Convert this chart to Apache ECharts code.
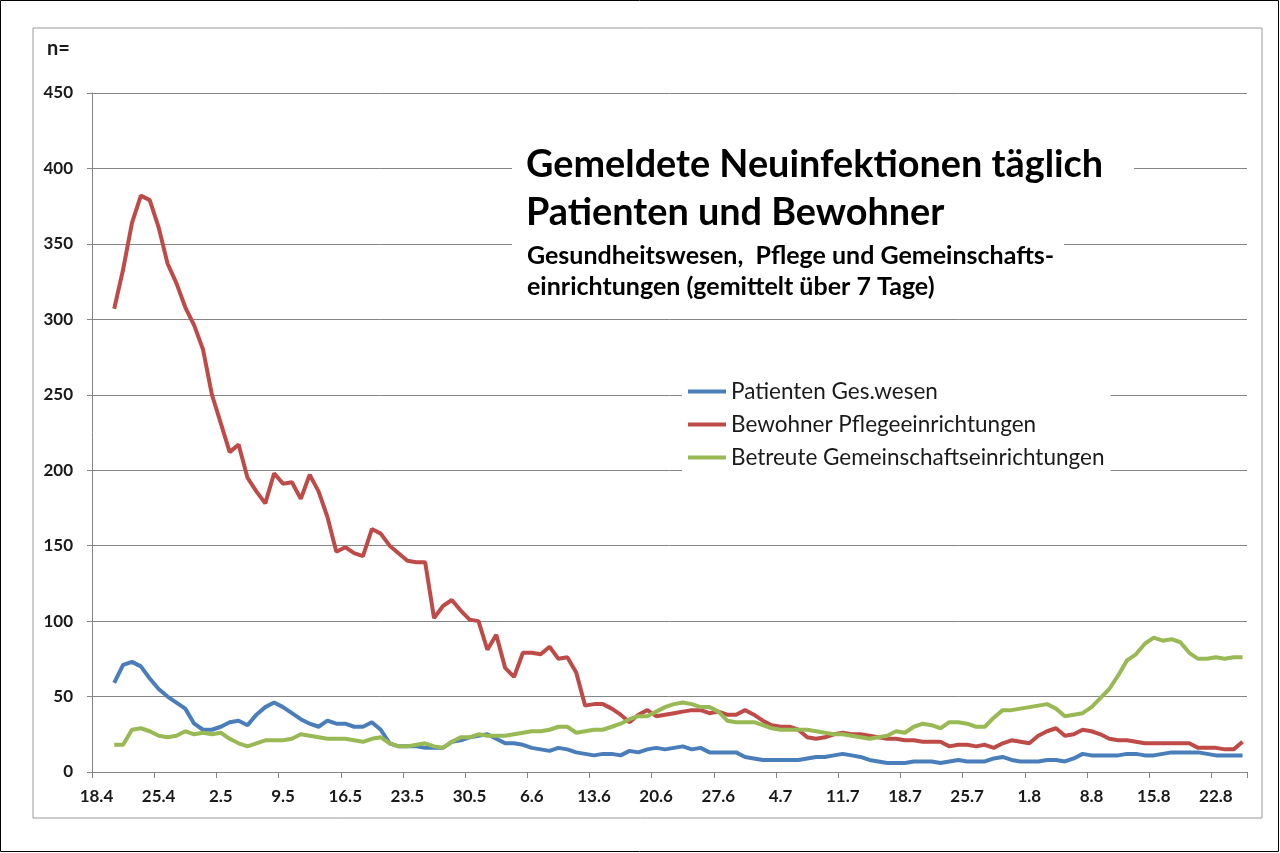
<!DOCTYPE html>
<html>
<head>
<meta charset="utf-8">
<script src="https://cdn.jsdelivr.net/npm/echarts@6/dist/echarts.min.js"></script>
<style>
html,body{margin:0;padding:0;background:#fff;}
#chart{width:1280px;height:853px;}
</style>
</head>
<body>
<div id="chart"></div>
<script>
// Category labels: daily dates 18.4 .. 25.8 (day.month)
const monthStarts = [[4, 18, 30], [5, 1, 31], [6, 1, 30], [7, 1, 31], [8, 1, 25]];
const categories = [];
monthStarts.forEach(function (m) { for (let d = m[1]; d <= m[2]; d++) categories.push(d + '.' + m[0]); });

const seriesNames = ['Patienten Ges.wesen', 'Bewohner Pflegeeinrichtungen', 'Betreute Gemeinschaftseinrichtungen'];
const leadingEmpty = [null, null]; // no values for 18.4 and 19.4

const patienten = [59,71,73,70,62,55,50,46,42,32,28,28,30,33,34,31,38,43,46,43,39,35,32,30,34,32,32,30,30,33,28,19,
17,17,17,16,16,16,20,21,23,24,25,22,19,19,18,16,15,14,16,15,13,12,11,12,12,11,14,13,15,16,15,16,17,15,16,13,13,13,13,10,9,8,8,8,8,8,9,10,10,11,12,11,10,8,7,6,6,6,7,7,7,6,7,8,7,7,7,9,10,8,7,7,7,8,8,7,9,12,11,11,11,11,12,12,11,11,12,13,13,13,13,12,11,11,11,11];

const bewohner = [307,333,364,382,379,361,337,324,308,296,280,250,231,212,217,195,186,178,198,191,192,181,197,186,169,146,149,145,143,161,158,150,145,140,139,139,102,110,114,107,101,100,81,91,69,63,79,79,78,83,75,76,66,44,45,45,42,38,33,38,41,37,38,39,40,41,41,39,40,38,38,41,38,34,31,30,30,28,23,22,23,25,26,25,25,24,23,22,22,21,21,20,20,20,17,18,18,17,18,16,19,21,20,19,24,27,29,24,25,28,27,25,22,21,21,20,19,19,19,19,19,19,16,16,16,15,15,20];

const betreute = [18,18,28,29,27,24,23,24,27,25,26,25,26,22,19,17,19,21,21,21,22,25,24,23,22,22,22,21,20,22,23,19,17,17,18,19,17,16,20,23,23,25,24,24,24,25,26,27,27,28,30,30,26,27,28,28,30,32,35,37,37,40,43,45,46,45,43,43,40,34,33,33,33,31,29,28,28,28,28,27,26,25,25,24,23,22,23,24,27,26,30,32,31,29,33,33,32,30,30,36,41,41,42,43,44,45,42,37,38,39,43,49,55,64,74,78,85,89,87,88,86,79,75,75,76,75,76,76];

const colors = ['#4A7EBB', '#BE4B48', '#98B954'];
const yTicks = { min: 0, max: 450, interval: 50 };

const chart = echarts.init(document.getElementById('chart'), null, { renderer: 'canvas' });
const FONT = 'Lato, "Open Sans", sans-serif';

const values = [patienten, bewohner, betreute];
const option = {
  backgroundColor: '#ffffff',
  animation: false,
  grid: { left: 92, right: 33, top: 93, bottom: 81, containLabel: false },
  xAxis: {
    type: 'category',
    data: categories,
    boundaryGap: true,
    axisLine: { lineStyle: { color: '#868686', width: 1 } },
    axisTick: { show: true, interval: 6, length: 6, lineStyle: { color: '#868686' } },
    axisLabel: { interval: 6, margin: 16, color: '#1a1a1a', fontFamily: FONT, fontWeight: 'bold', fontSize: 17 },
    splitLine: { show: false }
  },
  yAxis: {
    type: 'value',
    min: yTicks.min, max: yTicks.max, interval: yTicks.interval,
    axisLine: { show: true, lineStyle: { color: '#868686', width: 1 } },
    axisTick: { show: true, length: 5, lineStyle: { color: '#868686' } },
    axisLabel: { margin: 19, color: '#1a1a1a', fontFamily: FONT, fontWeight: 'bold', fontSize: 17 },
    splitLine: { show: true, lineStyle: { color: '#868686', width: 1 } }
  },
  legend: {
    orient: 'vertical',
    left: 682, top: 377,
    icon: 'rect',
    itemWidth: 38, itemHeight: 4, itemGap: 10,
    backgroundColor: '#ffffff',
    padding: [3, 6, 3, 6],
    textStyle: { fontFamily: FONT, fontSize: 22.5, color: '#1a1a1a', lineHeight: 23 },
    data: seriesNames
  },
  series: seriesNames.map(function (n, k) {
    return {
      name: n,
      type: 'line',
      data: leadingEmpty.concat(values[k]),
      symbol: 'none',
      smooth: false,
      lineStyle: { color: colors[k], width: 4 },
      itemStyle: { color: colors[k] },
      z: 3 + k
    };
  }),
  graphic: [
    { type: 'rect', shape: { x: 33, y: 28, width: 1229, height: 790 }, style: { fill: 'none', stroke: '#9a9a9a', lineWidth: 1 }, silent: true, z: -1 },
    { type: 'rect', shape: { x: 0.5, y: 0.5, width: 1278, height: 851 }, style: { fill: 'none', stroke: '#000', lineWidth: 1 }, silent: true, z: -1 },
    { type: 'text', left: 47, top: 39, style: { text: 'n=', font: 'bold 20px ' + FONT, fill: '#1a1a1a' } },
    { type: 'rect', shape: { x: 512, y: 142, width: 622, height: 90 }, style: { fill: '#fff' }, z: 10 },
    { type: 'rect', shape: { x: 512, y: 232, width: 552, height: 70 }, style: { fill: '#fff' }, z: 10 },
    { type: 'text', left: 526, top: 146, z: 11, style: { text: 'Gemeldete Neuinfektionen täglich', font: 'bold 37.8px ' + FONT, fill: '#000' } },
    { type: 'text', left: 526, top: 194, z: 11, style: { text: 'Patienten und Bewohner', font: 'bold 37.8px ' + FONT, fill: '#000' } },
    { type: 'text', left: 527, top: 243, z: 11, style: { text: 'Gesundheitswesen,  Pflege und Gemeinschafts-', font: 'bold 25px ' + FONT, fill: '#000' } },
    { type: 'text', left: 527, top: 274, z: 11, style: { text: 'einrichtungen (gemittelt über 7 Tage)', font: 'bold 25px ' + FONT, fill: '#000' } }
  ]
};
chart.setOption(option);
</script>
</body>
</html>
